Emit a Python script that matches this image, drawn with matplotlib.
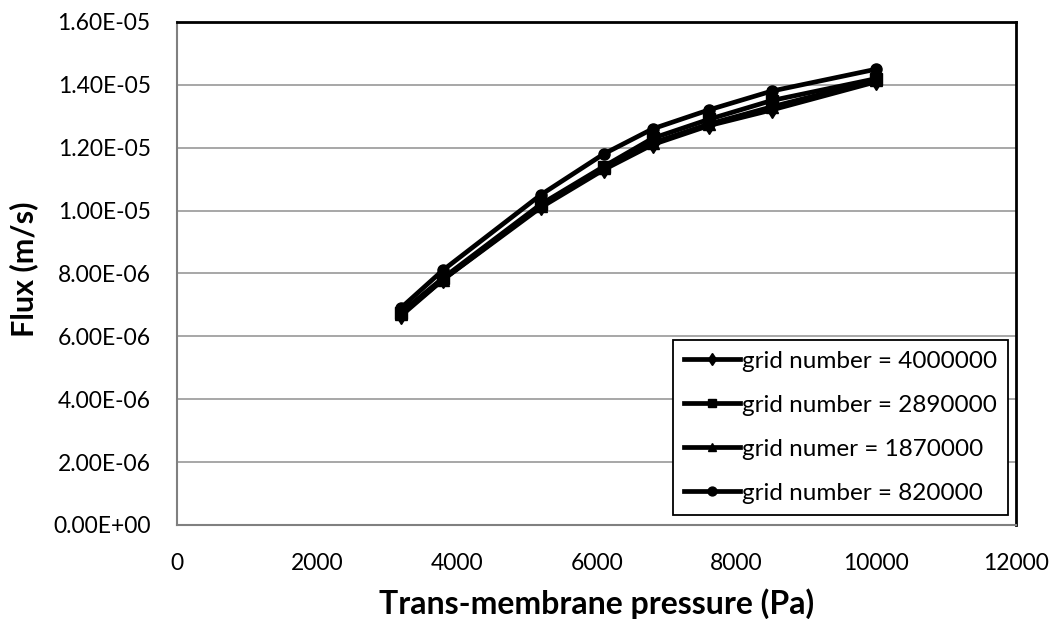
import matplotlib.pyplot as plt
from matplotlib.ticker import FuncFormatter, MultipleLocator

# Trans-membrane pressure (Pa)
pressure = [3200, 3800, 5200, 6100, 6800, 7600, 8500, 10000]

# Flux (m/s) for each grid size
flux_4000000 = [6.65e-6, 7.80e-6, 1.010e-5, 1.130e-5, 1.210e-5, 1.270e-5, 1.320e-5, 1.410e-5]
flux_2890000 = [6.75e-6, 7.85e-6, 1.020e-5, 1.140e-5, 1.230e-5, 1.290e-5, 1.350e-5, 1.420e-5]
flux_1870000 = [6.70e-6, 7.80e-6, 1.015e-5, 1.135e-5, 1.215e-5, 1.275e-5, 1.330e-5, 1.415e-5]
flux_820000 = [6.90e-6, 8.10e-6, 1.050e-5, 1.180e-5, 1.260e-5, 1.320e-5, 1.380e-5, 1.450e-5]

labels = ['grid number = 4000000', 'grid number = 2890000',
          'grid numer = 1870000', 'grid number = 820000']
markers = ['d', 's', '^', 'o']

plt.rcParams['font.family'] = ['Lato', 'DejaVu Sans']

fig = plt.figure(figsize=(10.57, 6.19), dpi=100)
ax = fig.add_axes([0.1675, 0.1519, 0.794, 0.8126])

for ys, lab, m in zip([flux_4000000, flux_2890000, flux_1870000, flux_820000],
                      labels, markers):
    ax.plot(pressure, ys, color='black', lw=3.4, marker=m, ms=8, label=lab)

ax.set_xlim(0, 12000)
ax.set_ylim(0, 1.6e-5)
ax.xaxis.set_major_locator(MultipleLocator(2000))
ax.yaxis.set_major_locator(MultipleLocator(2e-6))

# Excel-style scientific labels, e.g. 1.60E-05
ax.yaxis.set_major_formatter(FuncFormatter(lambda v, pos: '%.2E' % v))
ax.tick_params(labelsize=16.5, length=0)
ax.tick_params(axis='x', pad=20)
ax.tick_params(axis='y', pad=19)
ax.grid(axis='y', color='#a0a0a0', lw=1.3)
ax.set_axisbelow(True)
for side in ['top', 'right']:
    ax.spines[side].set_color('black')
    ax.spines[side].set_linewidth(2)
for side in ['left', 'bottom']:
    ax.spines[side].set_color('#808080')
    ax.spines[side].set_linewidth(1.5)

ax.set_xlabel('Trans-membrane pressure (Pa)', fontsize=23, fontweight='bold',
              va='center')
ax.xaxis.set_label_coords(0.5, -0.157)
ax.set_ylabel('Flux (m/s)', fontsize=22, fontweight='bold', va='center')
ax.yaxis.set_label_coords(-0.1824, 0.509)

leg = ax.legend(loc='lower right', bbox_to_anchor=(0.9905, 0.02), fontsize=17.5,
                frameon=True, fancybox=False, handlelength=2.3,
                handletextpad=0.1, labelspacing=0.95, borderaxespad=0,
                borderpad=0.45, markerscale=0.8)
leg.get_frame().set_edgecolor('black')
leg.get_frame().set_linewidth(1.3)
leg.get_frame().set_alpha(1)

fig.savefig('out.png', dpi=100)
